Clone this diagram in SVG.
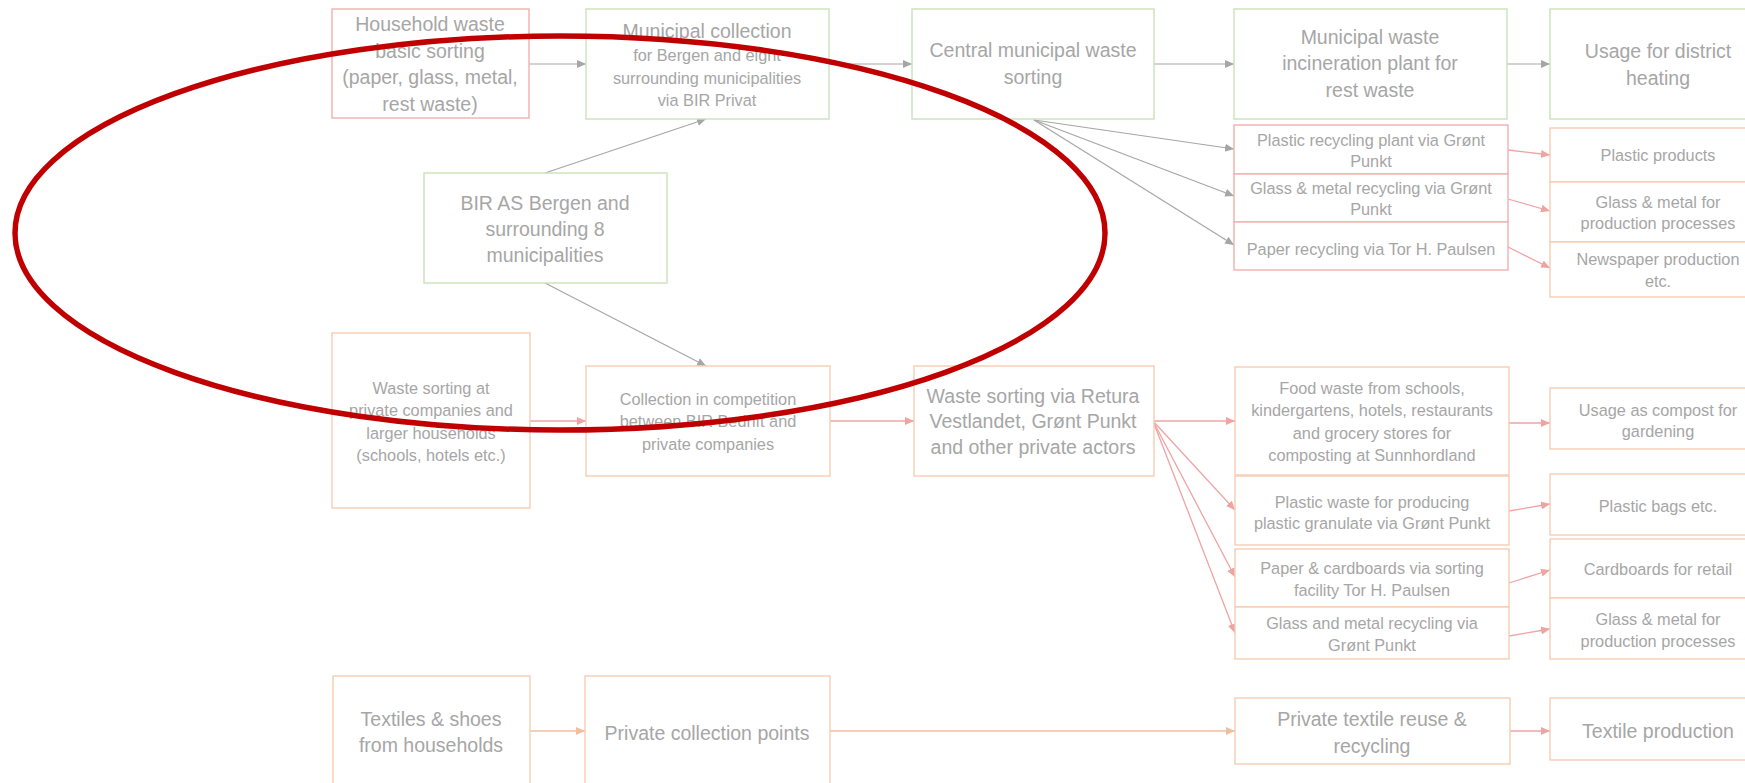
<svg xmlns="http://www.w3.org/2000/svg" width="1745" height="783" viewBox="0 0 1745 783">
<style>
  .bx { fill: #FFFFFF; stroke-width: 1.4; }
  .g { stroke: #C9E2B8; }
  .r { stroke: #F2AFAF; }
  .p { stroke: #F6CDB3; }
  text { font-family: "Liberation Sans", Arial, sans-serif; fill: #A6A6A6; text-anchor: middle; }
  .L { font-size: 19.5px; }
  .S { font-size: 16.3px; }
  .cg { stroke: #A6A6A6; stroke-width: 1.2; fill: none; marker-end: url(#ag); }
  .cr { stroke: #EFA3A3; stroke-width: 1.3; fill: none; marker-end: url(#ar); }
  .co { stroke: #F2BE9E; stroke-width: 1.5; fill: none; marker-end: url(#ao); }
</style>
<defs>
  <marker id="ag" markerUnits="userSpaceOnUse" markerWidth="10" markerHeight="10" refX="9" refY="5" orient="auto"><path d="M0,1 L9,5 L0,9 z" fill="#A6A6A6"/></marker>
  <marker id="ar" markerUnits="userSpaceOnUse" markerWidth="10" markerHeight="10" refX="9" refY="5" orient="auto"><path d="M0,1 L9,5 L0,9 z" fill="#EFA3A3"/></marker>
  <marker id="ao" markerUnits="userSpaceOnUse" markerWidth="10" markerHeight="10" refX="9" refY="5" orient="auto"><path d="M0,1 L9,5 L0,9 z" fill="#F2BE9E"/></marker>
</defs>
<rect width="1745" height="783" fill="#FFFFFF"/>

<g id="connectors">
  <line class="cg" x1="529" y1="64" x2="586" y2="64"/>
  <line class="cg" x1="829" y1="64" x2="912" y2="64"/>
  <line class="cg" x1="1154" y1="64" x2="1234" y2="64"/>
  <line class="cg" x1="1507" y1="64" x2="1550" y2="64"/>
  <line class="cg" x1="545" y1="173" x2="706" y2="119"/>
  <line class="cg" x1="545" y1="283" x2="706" y2="366"/>
  <line class="cg" x1="1034" y1="120" x2="1234" y2="149"/>
  <line class="cg" x1="1034" y1="120" x2="1234" y2="196"/>
  <line class="cg" x1="1034" y1="120" x2="1234" y2="245"/>
  <line class="cr" x1="1508" y1="150" x2="1550" y2="155"/>
  <line class="cr" x1="1508" y1="199" x2="1550" y2="211"/>
  <line class="cr" x1="1508" y1="247" x2="1550" y2="268"/>
  <line class="cr" x1="530" y1="421" x2="586" y2="421"/>
  <line class="cr" x1="830" y1="421" x2="914" y2="421"/>
  <line class="cr" x1="1153" y1="421" x2="1235" y2="421"/>
  <line class="cr" x1="1153" y1="421" x2="1235" y2="510"/>
  <line class="cr" x1="1153" y1="421" x2="1235" y2="577"/>
  <line class="cr" x1="1153" y1="421" x2="1235" y2="633"/>
  <line class="cr" x1="1509" y1="423" x2="1550" y2="423"/>
  <line class="cr" x1="1509" y1="511" x2="1550" y2="504"/>
  <line class="cr" x1="1509" y1="583" x2="1550" y2="570"/>
  <line class="cr" x1="1509" y1="636" x2="1550" y2="629"/>
  <line class="co" x1="530" y1="731" x2="585" y2="731"/>
  <line class="co" x1="830" y1="731" x2="1235" y2="731"/>
  <line class="cr" x1="1510" y1="731" x2="1550" y2="731"/>
</g>

<g id="household">
  <rect class="bx r" x="332" y="9" width="197" height="109"/>
  <text class="L" x="430" y="31">Household waste</text>
  <text class="L" x="430" y="58">basic sorting</text>
  <text class="L" x="430" y="84">(paper, glass, metal,</text>
  <text class="L" x="430" y="111">rest waste)</text>
</g>
<g id="municipal-collection">
  <rect class="bx g" x="586" y="9" width="243" height="110"/>
  <text class="L" x="707" y="38">Municipal collection</text>
  <text class="S" x="707" y="61">for Bergen and eight</text>
  <text class="S" x="707" y="84">surrounding municipalities</text>
  <text class="S" x="707" y="106">via BIR Privat</text>
</g>
<g id="central-sorting">
  <rect class="bx g" x="912" y="9" width="242" height="110"/>
  <text class="L" x="1033" y="57">Central municipal waste</text>
  <text class="L" x="1033" y="84">sorting</text>
</g>
<g id="incineration">
  <rect class="bx g" x="1234" y="9" width="273" height="110"/>
  <text class="L" x="1370" y="44">Municipal waste</text>
  <text class="L" x="1370" y="70">incineration plant for</text>
  <text class="L" x="1370" y="97">rest waste</text>
</g>
<g id="district-heating">
  <rect class="bx g" x="1550" y="9" width="216" height="110"/>
  <text class="L" x="1658" y="58">Usage for district</text>
  <text class="L" x="1658" y="85">heating</text>
</g>
<g id="plastic-recycling">
  <rect class="bx r" x="1234" y="125" width="274" height="49"/>
  <text class="S" x="1371" y="146">Plastic recycling plant via Grønt</text>
  <text class="S" x="1371" y="167">Punkt</text>
</g>
<g id="glass-metal-recycling">
  <rect class="bx r" x="1234" y="174" width="274" height="48"/>
  <text class="S" x="1371" y="194">Glass &amp; metal recycling via Grønt</text>
  <text class="S" x="1371" y="215">Punkt</text>
</g>
<g id="paper-recycling">
  <rect class="bx r" x="1234" y="222" width="274" height="48"/>
  <text class="S" x="1371" y="255">Paper  recycling via Tor H. Paulsen</text>
</g>
<g id="plastic-products">
  <rect class="bx p" x="1550" y="128" width="216" height="54"/>
  <text class="S" x="1658" y="161">Plastic products</text>
</g>
<g id="glass-metal-production-1">
  <rect class="bx p" x="1550" y="182" width="216" height="60"/>
  <text class="S" x="1658" y="208">Glass &amp; metal for</text>
  <text class="S" x="1658" y="229">production  processes</text>
</g>
<g id="newspaper">
  <rect class="bx p" x="1550" y="242" width="216" height="55"/>
  <text class="S" x="1658" y="265">Newspaper production</text>
  <text class="S" x="1658" y="287">etc.</text>
</g>
<g id="bir-as">
  <rect class="bx g" x="424" y="173" width="243" height="110"/>
  <text class="L" x="545" y="210">BIR AS Bergen and</text>
  <text class="L" x="545" y="236">surrounding 8</text>
  <text class="L" x="545" y="262">municipalities</text>
</g>
<g id="private-sorting">
  <rect class="bx p" x="332" y="333" width="198" height="175"/>
  <text class="S" x="431" y="394">Waste sorting at</text>
  <text class="S" x="431" y="416">private companies and</text>
  <text class="S" x="431" y="439">larger households</text>
  <text class="S" x="431" y="461">(schools, hotels etc.)</text>
</g>
<g id="collection-competition">
  <rect class="bx p" x="586" y="366" width="244" height="110"/>
  <text class="S" x="708" y="405">Collection in competition</text>
  <text class="S" x="708" y="427">between BIR Bedrift and</text>
  <text class="S" x="708" y="450">private companies</text>
</g>
<g id="retura">
  <rect class="bx p" x="914" y="366" width="240" height="110"/>
  <text class="L" x="1033" y="403">Waste sorting via Retura</text>
  <text class="L" x="1033" y="428">Vestlandet, Grønt Punkt</text>
  <text class="L" x="1033" y="454">and other private actors</text>
</g>
<g id="food-waste">
  <rect class="bx p" x="1235" y="367" width="274" height="108"/>
  <text class="S" x="1372" y="394">Food waste from schools,</text>
  <text class="S" x="1372" y="416">kindergartens, hotels, restaurants</text>
  <text class="S" x="1372" y="439">and grocery stores for</text>
  <text class="S" x="1372" y="461">composting at Sunnhordland</text>
</g>
<g id="plastic-waste">
  <rect class="bx p" x="1235" y="476" width="274" height="69"/>
  <text class="S" x="1372" y="508">Plastic waste for producing</text>
  <text class="S" x="1372" y="529">plastic granulate via Grønt Punkt</text>
</g>
<g id="paper-cardboards">
  <rect class="bx p" x="1235" y="549" width="274" height="58"/>
  <text class="S" x="1372" y="574">Paper &amp; cardboards via sorting</text>
  <text class="S" x="1372" y="596">facility Tor H. Paulsen</text>
</g>
<g id="glass-metal-private">
  <rect class="bx p" x="1235" y="607" width="274" height="52"/>
  <text class="S" x="1372" y="629">Glass and metal recycling via</text>
  <text class="S" x="1372" y="651">Grønt Punkt</text>
</g>
<g id="compost">
  <rect class="bx p" x="1550" y="388" width="216" height="61"/>
  <text class="S" x="1658" y="416">Usage as compost for</text>
  <text class="S" x="1658" y="437">gardening</text>
</g>
<g id="plastic-bags">
  <rect class="bx p" x="1550" y="474" width="216" height="61"/>
  <text class="S" x="1658" y="512">Plastic bags etc.</text>
</g>
<g id="cardboards-retail">
  <rect class="bx p" x="1550" y="539" width="216" height="59"/>
  <text class="S" x="1658" y="575">Cardboards for retail</text>
</g>
<g id="glass-metal-production-2">
  <rect class="bx p" x="1550" y="598" width="216" height="61"/>
  <text class="S" x="1658" y="625">Glass &amp; metal for</text>
  <text class="S" x="1658" y="647">production  processes</text>
</g>
<g id="textiles">
  <rect class="bx p" x="333" y="676" width="197" height="120"/>
  <text class="L" x="431" y="726">Textiles  &amp; shoes</text>
  <text class="L" x="431" y="752">from households</text>
</g>
<g id="private-collection">
  <rect class="bx p" x="585" y="676" width="245" height="120"/>
  <text class="L" x="707" y="740">Private collection points</text>
</g>
<g id="textile-reuse">
  <rect class="bx p" x="1235" y="698" width="275" height="66"/>
  <text class="L" x="1372" y="726">Private textile reuse &amp;</text>
  <text class="L" x="1372" y="753">recycling</text>
</g>
<g id="textile-production">
  <rect class="bx p" x="1550" y="698" width="216" height="62"/>
  <text class="L" x="1658" y="738">Textile production</text>
</g>

<g id="highlight">
  <ellipse cx="560" cy="233" rx="545" ry="197" fill="none" stroke="#C00000" stroke-width="5.5"/>
</g>
</svg>
